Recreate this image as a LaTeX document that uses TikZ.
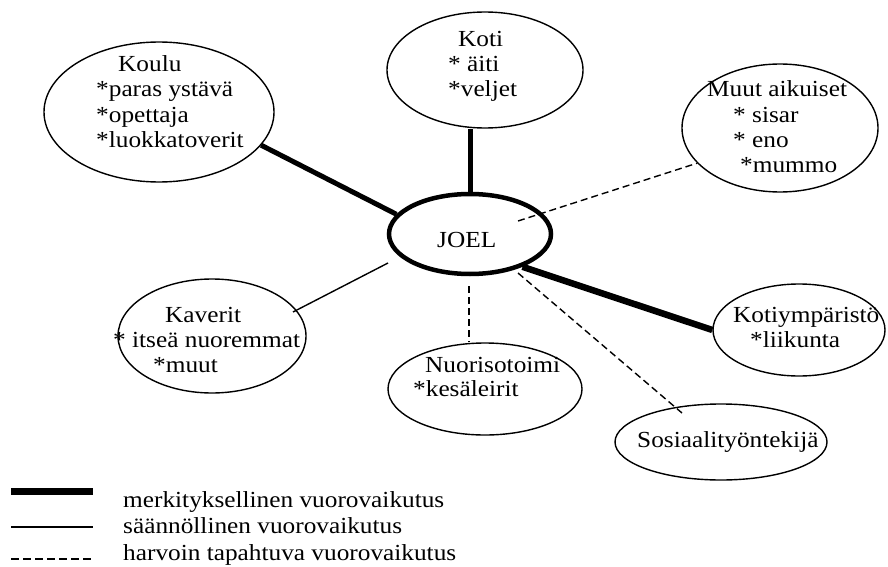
\documentclass[tikz,border=0pt]{standalone}
\usepackage{fontspec}
\setmainfont{Liberation Serif}[FakeStretch=1.1]
\usetikzlibrary{shapes.geometric}

\tikzset{
  bubble/.style={ellipse, draw, line width=1.4pt, inner sep=0pt},
  centre/.style={ellipse, draw, line width=4.5pt, inner sep=0pt},
  lbl/.style={anchor=base west, inner sep=0pt, font=\fontsize{23}{25}\selectfont},
  strong/.style={line width=5pt},
  strongest/.style={line width=6.5pt},
  regular/.style={line width=1.4pt},
  rare/.style={line width=1.4pt, dash pattern=on 7pt off 4pt},
}

\begin{document}
\begin{tikzpicture}[x=1pt, y=-1pt]
\useasboundingbox (0,0) rectangle (888,567);

% the circles of the network
\node[bubble, minimum width=230pt, minimum height=140pt] (koulu) at (159,112) {};
\node[bubble, minimum width=196pt, minimum height=116pt] (koti) at (485,70) {};
\node[bubble, minimum width=196pt, minimum height=128pt] (muut) at (780,128) {};
\node[centre, minimum width=162pt, minimum height=80pt] (joel) at (470,234) {};
\node[bubble, minimum width=188pt, minimum height=114pt] (kaverit) at (212,336) {};
\node[bubble, minimum width=194pt, minimum height=92pt] (nuoriso) at (485,389) {};
\node[bubble, minimum width=172pt, minimum height=92pt] (kotiymp) at (799,330) {};
\node[bubble, minimum width=212pt, minimum height=76pt] (sosiaali) at (721,442) {};

% texts
\node[lbl] (koulu-a) at (118,72) {Koulu};
\node[lbl] (koulu-b) at (96,97) {*paras ystävä};
\node[lbl] (koulu-c) at (96,122) {*opettaja};
\node[lbl] (koulu-d) at (96,147) {*luokkatoverit};

\node[lbl] (koti-a) at (458,47) {Koti};
\node[lbl] (koti-b) at (448,72) {* äiti};
\node[lbl] (koti-c) at (448,97) {*veljet};

\node[lbl] (muut-a) at (707,97) {Muut aikuiset};
\node[lbl] (muut-b) at (733,122) {* sisar};
\node[lbl] (muut-c) at (733,147) {* eno};
\node[lbl] (muut-d) at (740,172) {*mummo};

\node[lbl] (joel-a) at (437,247) {JOEL};

\node[lbl] (kaverit-a) at (165,322) {Kaverit};
\node[lbl] (kaverit-b) at (113,347) {* itseä nuoremmat};
\node[lbl] (kaverit-c) at (153,372) {*muut};

\node[lbl] (nuoriso-a) at (425,372) {Nuorisotoimi};
\node[lbl] (nuoriso-b) at (413,396) {*kesäleirit};

\node[lbl] (kotiymp-a) at (733,322) {Kotiympäristö};
\node[lbl] (kotiymp-b) at (750,347) {*liikunta};

\node[lbl] (sosiaali-a) at (637,447) {Sosiaalityöntekijä};

% free ends of the connectors
\coordinate (muut-in) at (518,221);
\coordinate (kaverit-in) at (293,312);
\coordinate (kaverit-out) at (388,263);
\coordinate (nuoriso-top) at (469,286);
\coordinate (sos-in) at (518,273);
\coordinate (sos-end) at (682,413);

% connectors
\draw[strong] (koulu.-18) -- (joel.165);
\draw[strong] (joel.north) -- (joel.north |- koti.south);
\draw[rare] (muut-in) -- (muut.203);
\draw[regular] (kaverit-in) -- (kaverit-out);
\draw[rare] (nuoriso-top) -- (nuoriso-top |- nuoriso.north);
\draw[rare] (sos-in) -- (sos-end);
\draw[strongest] (joel.-32) -- (kotiymp.180);

% legend
\coordinate (k1a) at (11,491); \coordinate (k1b) at (93,491);
\coordinate (k2a) at (11,527); \coordinate (k2b) at (93,527);
\coordinate (k3a) at (11,559); \coordinate (k3b) at (93,559);
\draw[line width=7pt] (k1a) -- (k1b);
\draw[regular] (k2a) -- (k2b);
\draw[rare, dash pattern=on 8pt off 4pt] (k3a) -- (k3b);
\node[lbl] (leg-a) at (123,507) {merkityksellinen vuorovaikutus};
\node[lbl] (leg-b) at (123,533) {säännöllinen vuorovaikutus};
\node[lbl] (leg-c) at (123,560) {harvoin tapahtuva vuorovaikutus};
\end{tikzpicture}
\end{document}
